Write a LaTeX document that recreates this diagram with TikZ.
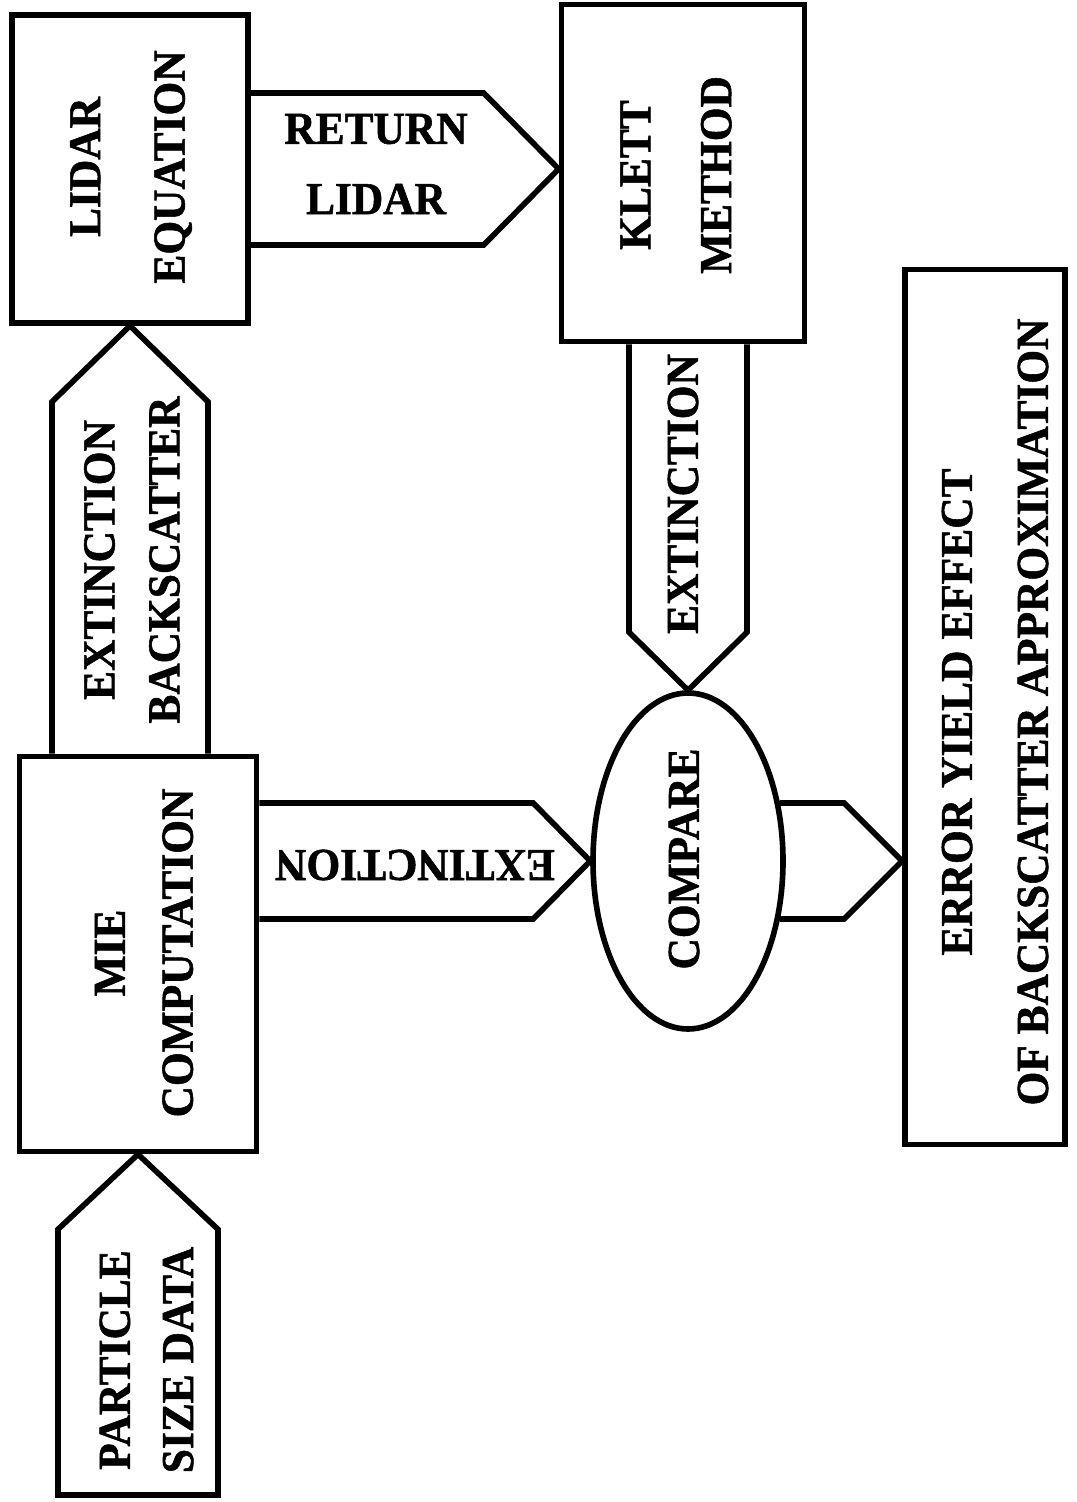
\documentclass[tikz,border=0pt]{standalone}
\usepackage{fontspec}
\newfontfamily\chartfont[FakeStretch=0.95, FakeBold=1.2]{Liberation Serif}
\usetikzlibrary{calc, shapes.geometric}

\begin{document}
\begin{tikzpicture}[%
        line width = 1.6pt,
        line join = miter,
        box/.style = {draw, rectangle, inner sep = 0pt},
        oval/.style = {draw, ellipse, inner sep = 0pt},
        lbl/.style = {
            font = {\chartfont\bfseries\fontsize{13pt}{18pt}\selectfont},
            align = center,
            inner sep = 0pt
        }
    ]

        \useasboundingbox (0.0, 0.0) rectangle (10.76, -15.02);

        % The process boxes and the comparison oval.
        \node[box, minimum width = 2.36cm, minimum height = 3.08cm] (lidar) at (1.30, -1.69) {};
        \node[box, minimum width = 2.43cm, minimum height = 3.37cm] (klett) at (6.83, -1.73) {};
        \node[box, minimum width = 2.37cm, minimum height = 3.95cm] (mie) at (1.38, -9.54) {};
        \node[oval, minimum width = 1.90cm, minimum height = 3.36cm] (compare) at (6.88, -8.61) {};
        \node[box, minimum width = 1.60cm, minimum height = 8.75cm] (result) at (9.85, -7.07) {};

        % Texts of the boxes, turned on their side.
        \node[lbl, rotate = 90] (lidartxt) at (1.31, -1.67) {LIDAR\\[6pt]EQUATION};
        \node[lbl, rotate = 90] (kletttxt) at (6.76, -1.75) {KLETT\\[5pt]METHOD};
        \node[lbl, rotate = 90] (mietxt) at (1.44, -9.53) {MIE\\[1.3pt]COMPUTATION};
        \node[lbl, rotate = 90] (comparetxt) at (6.84, -8.59) {COMPARE};
        \node[lbl, rotate = 90] (resulttxt) at (9.95, -7.12) {ERROR YIELD EFFECT\\[3.6pt]OF BACKSCATTER APPROXIMATION};

        % Block arrow from the lidar equation to the Klett method.
        \coordinate (rettip) at (klett.west |- lidar.east);
        \draw ($(lidar.east) + (0.0, 0.76)$) -- ($(rettip) + (-0.75, 0.76)$) -- (rettip)
            -- ($(rettip) + (-0.75, -0.76)$) -- ($(lidar.east) + (0.0, -0.76)$);
        \node[lbl] (rettxt) at (3.76, -1.64) {RETURN\\[2pt]LIDAR};

        % Block arrow from the Mie computation up to the lidar equation.
        \coordinate (ebtip) at (lidar.south);
        \draw ($(ebtip |- mie.north) + (-0.78, 0.0)$) -- ($(ebtip) + (-0.78, -0.76)$) -- (ebtip)
            -- ($(ebtip) + (0.78, -0.76)$) -- ($(ebtip |- mie.north) + (0.78, 0.0)$);
        \node[lbl, rotate = 90] (ebtxt) at (1.32, -5.60) {EXTINCTION\\[0.5pt]BACKSCATTER};

        % Block arrow from the Klett method down to the comparison.
        \coordinate (ektip) at (compare.north);
        \draw ($(ektip |- klett.south) + (-0.59, 0.0)$) -- ($(ektip) + (-0.59, 0.58)$) -- (ektip)
            -- ($(ektip) + (0.59, 0.58)$) -- ($(ektip |- klett.south) + (0.59, 0.0)$);
        \node[lbl, rotate = 90] (ektxt) at (6.83, -4.94) {EXTINCTION};

        % Block arrow from the Mie computation to the comparison.
        \coordinate (emtip) at (compare.west);
        \draw ($(mie.east |- emtip) + (0.0, 0.58)$) -- ($(emtip) + (-0.57, 0.58)$) -- (emtip)
            -- ($(emtip) + (-0.57, -0.58)$) -- ($(mie.east |- emtip) + (0.0, -0.58)$);
        \node[lbl, rotate = 180] (emtxt) at (4.15, -8.65) {EXTINCTION};

        % Block arrow from the comparison to the result.
        \coordinate (restip) at (result.west |- compare.east);
        \draw ($(compare.east) + (-0.06, 0.58)$) -- ($(restip) + (-0.58, 0.58)$) -- (restip)
            -- ($(restip) + (-0.58, -0.58)$) -- ($(compare.east) + (-0.06, -0.58)$);

        % Input arrow with the particle size data.
        \coordinate (pbot) at (mie.south |- 0.0, -14.95);
        \draw ($(pbot) + (-0.80, 0.0)$) -- ($(mie.south) + (-0.80, -0.75)$) -- (mie.south)
            -- ($(mie.south) + (0.80, -0.75)$) -- ($(pbot) + (0.80, 0.0)$) -- cycle;
        \node[lbl, rotate = 90] (parttxt) at (1.465, -13.60) {PARTICLE\\SIZE DATA};
    \end{tikzpicture}
\end{document}
